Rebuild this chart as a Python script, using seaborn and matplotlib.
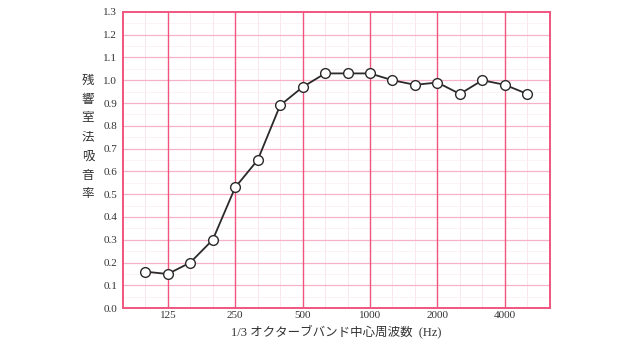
import numpy as np
import pandas as pd
import matplotlib
matplotlib.use("Agg")
import matplotlib.pyplot as plt
import seaborn as sns

bands = ["100", "125", "160", "200", "250", "315", "400", "500", "630", "800",
         "1000", "1250", "1600", "2000", "2500", "3150", "4000", "5000"]
absorption = [0.16, 0.15, 0.20, 0.30, 0.53, 0.65, 0.89, 0.97, 1.03, 1.03,
              1.03, 1.00, 0.98, 0.99, 0.94, 1.00, 0.98, 0.94]
xtick_labels = ["125", "250", "500", "1000", "2000", "4000"]
ytick_values = [round(0.1 * i, 1) for i in range(14)]

sns.set_theme(style="white")
plt.rcParams["font.family"] = ["Liberation Serif", "Noto Sans CJK JP"]

df = pd.DataFrame({"pos": np.arange(len(bands)), "band": bands, "a": absorption})

fig = plt.figure(figsize=(6.4, 3.6), dpi=100)
ax = fig.add_axes([0.192, 0.144, 0.667, 0.823])

# grid
for i in range(-1, len(bands) + 1):
    ax.axvline(i, color="#f9e3e9", lw=0.6, zorder=0)
for v in np.arange(0.05, 1.3, 0.1):
    ax.axhline(v, color="#fcecf0", lw=0.5, zorder=0)
for v in ytick_values[1:-1]:
    ax.axhline(v, color="#f7b3c6", lw=0.9, zorder=0.5)
for lab in xtick_labels:
    ax.axvline(bands.index(lab), color="#f0557e", lw=1.0, zorder=0.6)

sns.lineplot(data=df, x="pos", y="a", ax=ax, color="#2a2a2a", lw=1.3,
             marker="o", markersize=7, markerfacecolor="white",
             markeredgecolor="#2a2a2a", markeredgewidth=1.0, zorder=3)

ax.set_xlim(-1, len(bands))
ax.set_ylim(0, 1.3)
ax.set_yticks(ytick_values)
ax.set_yticklabels([f"{v:.1f}" for v in ytick_values], fontsize=8, color="#333333")
ax.set_xticks([bands.index(l) for l in xtick_labels])
ax.set_xticklabels(xtick_labels, fontsize=8, color="#333333")
ax.tick_params(axis="y", length=0, pad=4)
ax.tick_params(axis="x", length=0, pad=2)
ax.set_xlabel("1/3 オクターブバンド中心周波数  (Hz)", fontsize=9, color="#333333", labelpad=3)
ax.set_ylabel("")
for s in ax.spines.values():
    s.set_color("#f0557e")
    s.set_linewidth(1.4)

fig.text(88 / 640, 1 - 137 / 360, "\n".join("残響室法吸音率"), ha="center", va="center",
         fontsize=9, color="#333333", linespacing=1.6, family=["Noto Sans CJK JP"])

fig.savefig("out.png", dpi=100)
